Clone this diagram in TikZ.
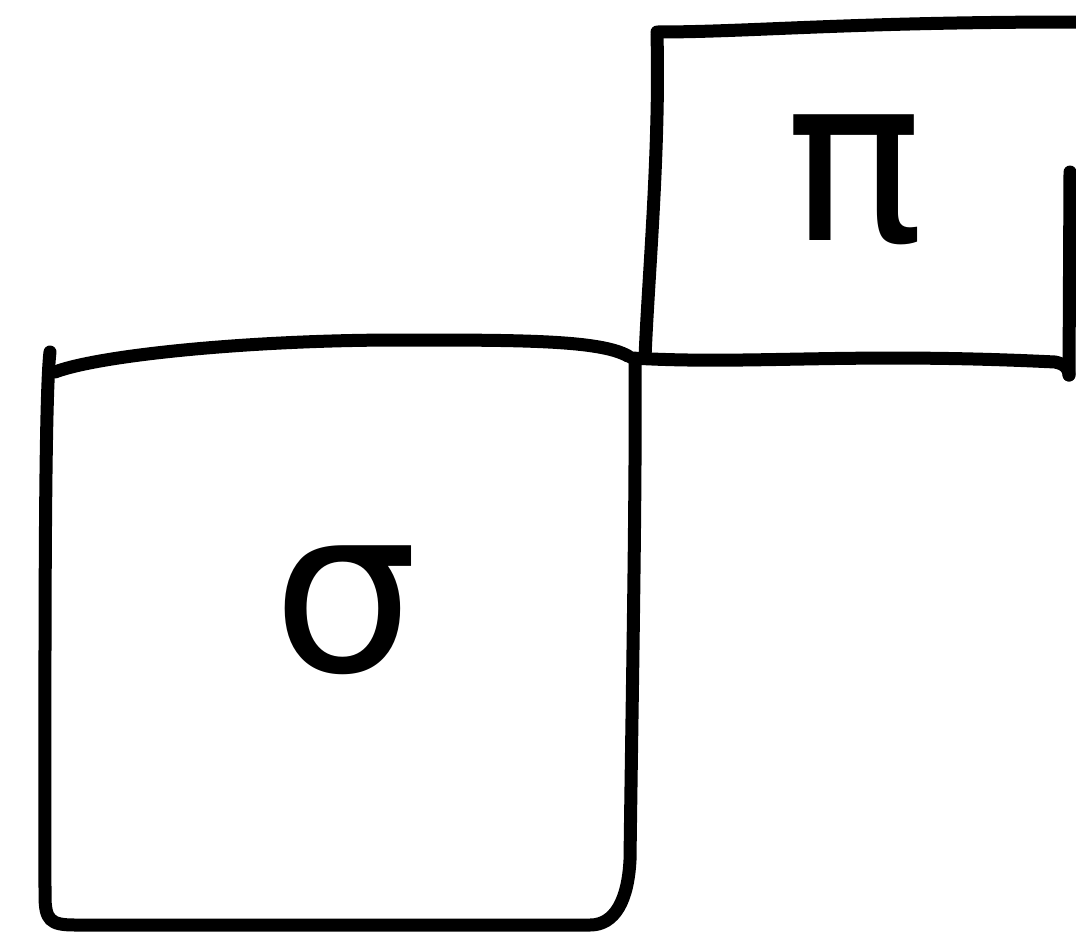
\documentclass[tikz,border=0pt]{standalone}
\usepackage{fontspec}
\newfontfamily\greekfont{DejaVu Sans}
\begin{document}
\begin{tikzpicture}[x=1pt,y=-1pt,
  stroke/.style={line width=13pt,line cap=round,line join=round,black},
  glyph/.style={font=\greekfont\fontsize{230}{230}\selectfont,inner sep=0pt}]
\useasboundingbox (0,0) rectangle (1076,945);
% lower-left box
\draw[stroke] (50,352) .. controls (44,400) and (45,700) .. (45,895)
  .. controls (45,920) and (50,925) .. (75,925)
  -- (590,925) .. controls (615,925) and (628,900) .. (630,860)
  .. controls (632,700) and (636,500) .. (635,365);
\draw[stroke] (55,372) .. controls (100,355) and (250,340) .. (400,340)
  .. controls (520,340) and (600,340) .. (628,356);
% upper-right box
\draw[stroke] (657,35) .. controls (660,150) and (648,280) .. (645,358);
\draw[stroke] (657,32) .. controls (750,32) and (850,22) .. (1076,22);
\draw[stroke] (632,358) .. controls (750,365) and (850,352) .. (1055,362)
  .. controls (1066,364) and (1069,370) .. (1069,375);
\draw[stroke] (1070,172) -- (1069,375);
% labels
\node[glyph] (s) at (345,610) {σ};
\node[glyph] (p) at (855,180) {π};
\end{tikzpicture}
\end{document}
